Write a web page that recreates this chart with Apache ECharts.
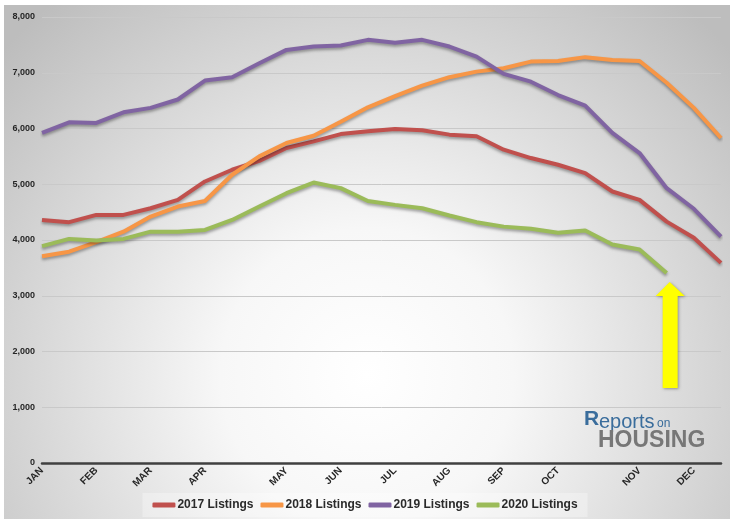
<!DOCTYPE html>
<html>
<head>
<meta charset="utf-8">
<script src="https://cdn.jsdelivr.net/npm/echarts@6/dist/echarts.min.js"></script>
<style>
  html, body { margin: 0; padding: 0; background: #fff; }
  #chart { width: 730px; height: 519px; }
</style>
</head>
<body>
<div id="chart"></div>
<script>
// biweekly points, month label on the point where the month starts
var categories = ['JAN', '', 'FEB', '', 'MAR', '', 'APR', '', '', 'MAY', '', 'JUN', '', 'JUL', '', 'AUG', '', 'SEP', '', 'OCT', '', '', 'NOV', '', 'DEC', '']

var listings2017 = [4360, 4320, 4450, 4450, 4570, 4720, 5050, 5260, 5420, 5650, 5770, 5900, 5950, 5990, 5970, 5890, 5860, 5620, 5470, 5350, 5200, 4870, 4720, 4330, 4040, 3590]
var listings2018 = [3710, 3790, 3960, 4150, 4420, 4600, 4700, 5170, 5500, 5740, 5870, 6120, 6380, 6580, 6770, 6920, 7020, 7080, 7200, 7210, 7280, 7230, 7210, 6820, 6370, 5830]
var listings2019 = [5920, 6110, 6100, 6290, 6370, 6520, 6860, 6920, 7170, 7410, 7470, 7490, 7590, 7540, 7590, 7470, 7290, 6980, 6840, 6600, 6410, 5920, 5560, 4930, 4560, 4060]
var listings2020 = [3890, 4020, 3990, 4020, 4150, 4150, 4180, 4360, 4600, 4840, 5030, 4930, 4700, 4630, 4570, 4440, 4320, 4240, 4200, 4130, 4170, 3920, 3830, 3410]

var seriesNames = ['2017 Listings', '2018 Listings', '2019 Listings', '2020 Listings']
var seriesColors = ['#c0504d', '#f79646', '#8064a2', '#9bbb59']

function lineSeries(i, data) {
  return {
    name: seriesNames[i],
    type: 'line',
    data: data,
    symbol: 'none',
    color: seriesColors[i],
    lineStyle: {
      width: 4,
      color: seriesColors[i],
      shadowColor: 'rgba(0,0,0,0.35)',
      shadowBlur: 3,
      shadowOffsetY: 2
    },
    z: 3 + i
  }
}

var myChart = echarts.init(document.getElementById('chart'))

myChart.setOption({
  animation: false,
  textStyle: { fontFamily: 'Liberation Sans, Arial, sans-serif' },
  grid: { left: 42, right: 9, top: 17, bottom: 56 },
  legend: {
    data: seriesNames,
    bottom: 2,
    left: 'center',
    itemWidth: 23,
    itemHeight: 5,
    itemGap: 7,
    icon: 'roundRect',
    padding: [6, 10],
    backgroundColor: 'rgba(255,255,255,0.3)',
    textStyle: { fontSize: 12, fontWeight: 'bold', color: '#2a2a2a', padding: [0, 0, 0, -3] }
  },
  xAxis: {
    type: 'category',
    data: categories,
    boundaryGap: false,
    axisLine: { lineStyle: { color: '#404040', width: 2.5 } },
    axisTick: { show: false },
    axisLabel: { interval: 0, rotate: 45, fontSize: 10, fontWeight: 'bold', color: '#262626', margin: 6 }
  },
  yAxis: {
    type: 'value',
    min: 0,
    max: 8000,
    interval: 1000,
    axisLine: { show: false },
    axisTick: { show: false },
    axisLabel: {
      fontSize: 9, fontWeight: 'bold', color: '#262626', margin: 7,
      formatter: function (v) { return v.toLocaleString('en-US') }
    },
    splitLine: { lineStyle: { color: '#c9c9c9', width: 1 } }
  },
  series: [
    lineSeries(0, listings2017),
    lineSeries(1, listings2018),
    lineSeries(2, listings2019),
    lineSeries(3, listings2020)
  ]
})

// background, logo and the yellow arrow under the last 2020 point
var last = listings2020.length - 1
var p = myChart.convertToPixel({ seriesIndex: 3 }, [last, listings2020[last]])
var ax = p[0] + 3
var tip = p[1] + 9

myChart.setOption({
  graphic: [
    {
      type: 'rect',
      z: -100,
      silent: true,
      shape: { x: 4, y: 5, width: 726, height: 514 },
      style: {
        fill: {
          type: 'radial', x: 0.5, y: 0.72, r: 0.95,
          colorStops: [
            { offset: 0, color: '#ffffff' },
            { offset: 0.3, color: '#f7f7f7' },
            { offset: 0.7, color: '#d6d6d6' },
            { offset: 1, color: '#bdbdbd' }
          ]
        }
      }
    },
    {
      type: 'polygon',
      z: 50,
      shape: {
        points: [
          [ax, tip], [ax + 15, tip + 14], [ax + 8, tip + 14], [ax + 8, tip + 106],
          [ax - 7, tip + 106], [ax - 7, tip + 14], [ax - 14, tip + 14]
        ]
      },
      style: { fill: '#ffff00', shadowColor: 'rgba(0,0,0,0.35)', shadowBlur: 3, shadowOffsetX: 1, shadowOffsetY: 1 }
    },
    {
      type: 'text', z: 50, left: 584, top: 409,
      style: { text: 'R', fill: '#3a6d9c', font: 'bold 21px Liberation Sans, Arial, sans-serif' }
    },
    {
      type: 'text', z: 50, left: 599, top: 412,
      style: { text: 'eports', fill: '#3a6d9c', font: '20px Liberation Sans, Arial, sans-serif' }
    },
    {
      type: 'text', z: 50, left: 657, top: 418,
      style: { text: 'on', fill: '#3a6d9c', font: '12px Liberation Sans, Arial, sans-serif' }
    },
    {
      type: 'text', z: 50, left: 598, top: 429,
      style: { text: 'HOUSING', fill: '#777777', font: 'bold 23px Liberation Sans, Arial, sans-serif' }
    }
  ]
})
</script>
</body>
</html>
